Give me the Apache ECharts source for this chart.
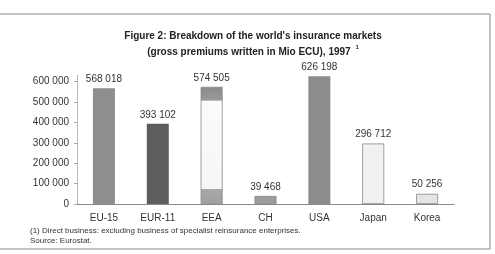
<!DOCTYPE html>
<html>
<head>
<meta charset="utf-8">
<script src="https://cdn.jsdelivr.net/npm/echarts@6/dist/echarts.min.js"></script>
<style>
  html, body { margin: 0; padding: 0; background: #fff; }
  #chart { width: 495px; height: 254px; }
</style>
</head>
<body>
<div id="chart"></div>
<script>
// values (Mio ECU, 1997)
var regions = ['EU-15', 'EUR-11', 'EEA', 'CH', 'USA', 'Japan', 'Korea'];
var premiums = [568018, 393102, 574505, 39468, 626198, 296712, 50256];
var yTicks = [0, 100000, 200000, 300000, 400000, 500000, 600000];

// bar fills, roughly the grey tones of the scan
var fills = [
  '#8e8e8e',
  '#5e5e5e',
  { type: 'linear', x: 0, y: 0, x2: 0, y2: 1, colorStops: [
    { offset: 0, color: '#8a8a8a' }, { offset: 0.115, color: '#9a9a9a' },
    { offset: 0.12, color: '#fbfbfb' }, { offset: 0.87, color: '#f6f6f6' },
    { offset: 0.875, color: '#a8a8a8' }, { offset: 1, color: '#a0a0a0' }] },
  '#9c9c9c',
  '#8c8c8c',
  '#f1f1f1',
  '#e4e4e4'
];

function fmt(v) {
  // thousands separated with a space
  return String(v).replace(/\B(?=(\d{3})+(?!\d))/g, ' ');
}

var chart = echarts.init(document.getElementById('chart'));

var barData = premiums.map(function (v, i) {
  return {
    value: v,
    itemStyle: { color: fills[i], borderColor: '#888', borderWidth: (i >= 2 && i != 4) ? 0.8 : 0 }
  };
});

chart.setOption({
  animation: false,
  textStyle: { fontFamily: 'Liberation Sans, Arial, sans-serif' },
  title: {
    text: 'Figure 2: Breakdown of the world\'s insurance markets\n(gross premiums written in Mio ECU), 1997 {s|1}',
    left: 248, top: 23, textAlign: 'center',
    textStyle: {
      fontSize: 10, fontWeight: 'bold', color: '#222', lineHeight: 16,
      rich: { s: { fontSize: 6, verticalAlign: 'top', padding: [0, 0, 6, 2], color: '#222' } }
    }
  },
  grid: { left: 77, right: 41, top: 75.5, bottom: 50, containLabel: false },
  xAxis: {
    type: 'category',
    data: regions,
    axisLine: { lineStyle: { color: '#888', width: 1 } },
    axisTick: { show: false },
    axisLabel: { color: '#333', fontSize: 10, margin: 9 }
  },
  yAxis: {
    type: 'value',
    min: yTicks[0],
    max: 630000,
    interval: yTicks[1] - yTicks[0],
    axisLine: { show: true, lineStyle: { color: '#aaa', width: 1, type: 'dotted' } },
    axisTick: { show: true, length: 3, lineStyle: { color: '#aaa' } },
    splitLine: { show: false },
    axisLabel: {
      color: '#333', fontSize: 10, margin: 8, showMaxLabel: false,
      formatter: function (v) { return fmt(v); }
    }
  },
  series: [{
    type: 'bar',
    data: barData,
    barWidth: 22,
    label: {
      show: true, position: 'top', distance: 4,
      color: '#333', fontSize: 10,
      formatter: function (p) { return fmt(p.value); }
    }
  }],
  graphic: [
    { type: 'rect', shape: { x: -2, y: 14, width: 492, height: 235 },
      style: { fill: 'none', stroke: '#888', lineWidth: 1 } },
    { type: 'text', left: 30, top: 227,
      style: { text: '(1) Direct business: excluding business of specialist reinsurance enterprises.', fontSize: 8, fill: '#333', fontFamily: 'Liberation Sans, Arial, sans-serif' } },
    { type: 'text', left: 30, top: 236.5,
      style: { text: 'Source: Eurostat.', fontSize: 8, fill: '#333', fontFamily: 'Liberation Sans, Arial, sans-serif' } }
  ]
});
</script>
</body>
</html>
